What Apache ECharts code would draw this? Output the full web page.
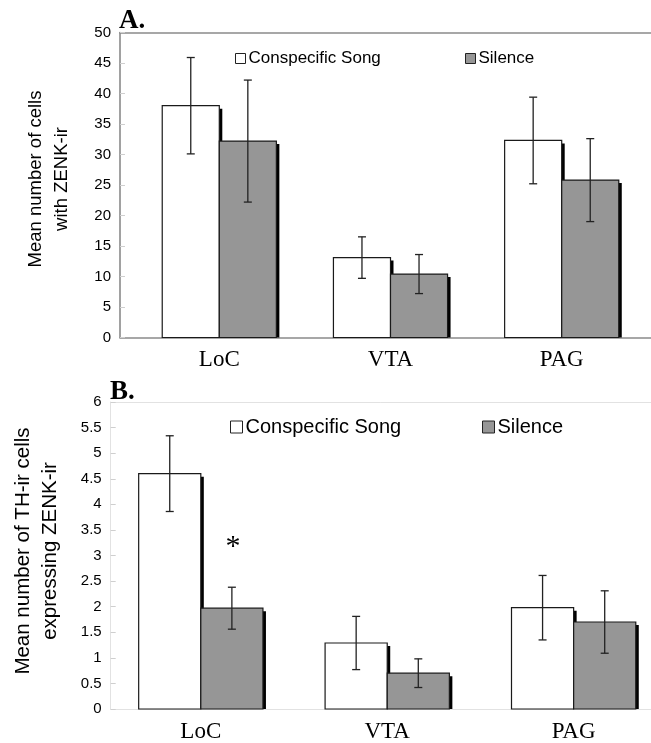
<!DOCTYPE html>
<html>
<head>
<meta charset="utf-8">
<script src="https://cdn.jsdelivr.net/npm/echarts@6/dist/echarts.min.js"></script>
<style>
html,body{margin:0;padding:0;background:#fff;}
#chart{width:651px;height:743px;}
</style>
</head>
<body>
<div id="chart"></div>
<script>
// ---- data ----
var categories = ['LoC', 'VTA', 'PAG'];
var seriesNames = ['Conspecific Song', 'Silence'];

// Panel A: Mean number of cells with ZENK-ir
var A_song = [38.0, 13.1, 32.3];
var A_songErr = [7.9, 3.4, 7.1];
var A_silence = [32.2, 10.4, 25.8];
var A_silenceErr = [10.0, 3.2, 6.8];
var A_yTicks = [0, 5, 10, 15, 20, 25, 30, 35, 40, 45, 50];

// Panel B: Mean number of TH-ir cells expressing ZENK-ir
var B_song = [4.6, 1.29, 1.98];
var B_songErr = [0.74, 0.52, 0.63];
var B_silence = [1.97, 0.70, 1.70];
var B_silenceErr = [0.41, 0.28, 0.61];
var B_sig = ['*', '', ''];
var B_yTicks = [0, 0.5, 1, 1.5, 2, 2.5, 3, 3.5, 4, 4.5, 5, 5.5, 6];

var SANS = '"Liberation Sans", Arial, sans-serif';
var SERIF = '"Liberation Serif", "Times New Roman", serif';

function buildData(vals, errs, sig) {
  return vals.map(function (v, i) { return [i, v, errs[i], sig ? sig[i] : '']; });
}

function makeRender(x0, x1, fill) {
  return function (params, api) {
    var i = api.value(0), v = api.value(1), e = api.value(2);
    var sig = api.value(3);
    var pTop = api.coord([i + x0, v]);
    var pBot = api.coord([i + x1, 0]);
    var x = pTop[0], y = pTop[1], w = pBot[0] - pTop[0], h = pBot[1] - pTop[1];
    var c = (x0 + x1) / 2;
    var eTop = api.coord([i + c, v + e]);
    var eBot = api.coord([i + c, v - e]);
    var cap = 4;
    var children = [
      { type: 'rect', shape: { x: x + 3, y: y + 3, width: w, height: h - 3 }, style: { fill: '#000' } },
      { type: 'rect', shape: { x: x, y: y, width: w, height: h }, style: { fill: fill, stroke: '#1a1a1a', lineWidth: 1.2 } },
      { type: 'line', shape: { x1: eTop[0], y1: eTop[1], x2: eBot[0], y2: eBot[1] }, style: { stroke: '#222', lineWidth: 1.3 } },
      { type: 'line', shape: { x1: eTop[0] - cap, y1: eTop[1], x2: eTop[0] + cap, y2: eTop[1] }, style: { stroke: '#222', lineWidth: 1.3 } },
      { type: 'line', shape: { x1: eBot[0] - cap, y1: eBot[1], x2: eBot[0] + cap, y2: eBot[1] }, style: { stroke: '#222', lineWidth: 1.3 } }
    ];
    if (sig && sig !== '' && sig !== '-') {
      children.push({ type: 'text', style: { text: String(sig), x: eTop[0] + 1, y: eTop[1] - 40, fill: '#000', font: '30px ' + SERIF, align: 'center', verticalAlign: 'middle' } });
    }
    return { type: 'group', children: children };
  };
}

function yAxisCommon(gridIndex, max, interval, name, nameSize, lineH, nameGap, pad, lineColor, lineW) {
  return {
    type: 'value', gridIndex: gridIndex, min: 0, max: max, interval: interval,
    name: name, nameLocation: 'middle', nameRotate: 90, nameGap: nameGap,
    nameTextStyle: { fontFamily: SANS, fontSize: nameSize, lineHeight: lineH, color: '#000', padding: pad },
    axisLine: { show: true, onZero: false, lineStyle: { color: lineColor, width: lineW } },
    axisTick: { show: true, inside: true, length: 5, lineStyle: { color: '#cfcfcf' } },
    axisLabel: { fontFamily: SANS, fontSize: 15, color: '#000', margin: 9 },
    splitLine: { show: false }
  };
}

function xAxisBottom(gridIndex, min, max, lineColor, lineW) {
  return {
    type: 'value', gridIndex: gridIndex, min: min, max: max, position: 'bottom',
    axisLine: { show: true, onZero: false, lineStyle: { color: lineColor, width: lineW } },
    axisTick: { show: false },
    splitLine: { show: false },
    axisLabel: {
      show: true, customValues: [0, 1, 2], margin: 11,
      fontFamily: SERIF, fontSize: 23, color: '#000',
      formatter: function (v) { return categories[Math.round(v)]; }
    }
  };
}
function xAxisTop(gridIndex, min, max, lineColor, lineW) {
  return {
    type: 'value', gridIndex: gridIndex, min: min, max: max, position: 'top',
    axisLine: { show: true, onZero: false, lineStyle: { color: lineColor, width: lineW } },
    axisTick: { show: false }, axisLabel: { show: false }, splitLine: { show: false }
  };
}

function legendItem(name, left, top, fill, size, fontSize) {
  return {
    left: left, top: top, padding: 0, selectedMode: false, itemWidth: size, itemHeight: size, itemGap: 0,
    icon: 'rect',
    data: [{ name: name, itemStyle: { color: fill, borderColor: '#222', borderWidth: 1 } }],
    textStyle: { fontFamily: SANS, fontSize: fontSize, color: '#000', padding: [0, 0, 0, -2] }
  };
}

var WHITE = '#ffffff', GRAY = '#969696';

var option = {
  backgroundColor: '#fff',
  animation: false,
  title: [
    { text: 'A.', left: 119, top: 8, padding: 0, textStyle: { fontFamily: SERIF, fontWeight: 'bold', fontSize: 27, color: '#000' } },
    { text: 'B.', left: 110, top: 379, padding: 0, textStyle: { fontFamily: SERIF, fontWeight: 'bold', fontSize: 27, color: '#000' } }
  ],
  legend: [
    legendItem(seriesNames[0], 235, 50, WHITE, 10, 17),
    legendItem(seriesNames[1], 465, 50, GRAY, 10, 17),
    legendItem(seriesNames[0], 230, 417, WHITE, 12, 20),
    legendItem(seriesNames[1], 482, 417, GRAY, 12, 20)
  ],
  grid: [
    { left: 120, top: 32.5, right: 0, height: 305 },
    { left: 110.7, top: 402, right: 0, height: 308 }
  ],
  xAxis: [
    xAxisBottom(0, -0.58, 2.5216, '#8a8a8a', 1.6),
    xAxisTop(0, -0.58, 2.5216, '#8a8a8a', 1.6),
    xAxisBottom(1, -0.4834, 2.415, '#e2e2e2', 1),
    xAxisTop(1, -0.4834, 2.415, '#e2e2e2', 1)
  ],
  yAxis: [
    yAxisCommon(0, A_yTicks[A_yTicks.length - 1], A_yTicks[1] - A_yTicks[0], 'Mean number of cells\nwith ZENK-ir', 18.5, 26, 45, [0, 0, 0, 12], '#8a8a8a', 1.6),
    yAxisCommon(1, B_yTicks[B_yTicks.length - 1], B_yTicks[1] - B_yTicks[0], 'Mean number of TH-ir cells\nexpressing ZENK-ir', 20.5, 27, 47, [0, 0, 0, 9], '#e2e2e2', 1)
  ],
  series: [
    { type: 'custom', name: seriesNames[0], xAxisIndex: 0, yAxisIndex: 0, renderItem: makeRender(-1 / 3, 0, WHITE), itemStyle: { color: WHITE }, data: buildData(A_song, A_songErr), clip: false },
    { type: 'custom', name: seriesNames[1], xAxisIndex: 0, yAxisIndex: 0, renderItem: makeRender(0, 1 / 3, GRAY), itemStyle: { color: GRAY }, data: buildData(A_silence, A_silenceErr), clip: false },
    { type: 'custom', name: seriesNames[0], xAxisIndex: 2, yAxisIndex: 1, renderItem: makeRender(-1 / 3, 0, WHITE), itemStyle: { color: WHITE }, data: buildData(B_song, B_songErr), clip: false },
    { type: 'custom', name: seriesNames[1], xAxisIndex: 2, yAxisIndex: 1, renderItem: makeRender(0, 1 / 3, GRAY), itemStyle: { color: GRAY }, data: buildData(B_silence, B_silenceErr, B_sig), clip: false }
  ]
};

var chart = echarts.init(document.getElementById('chart'), null, { renderer: 'canvas' });
chart.setOption(option);
</script>
</body>
</html>
